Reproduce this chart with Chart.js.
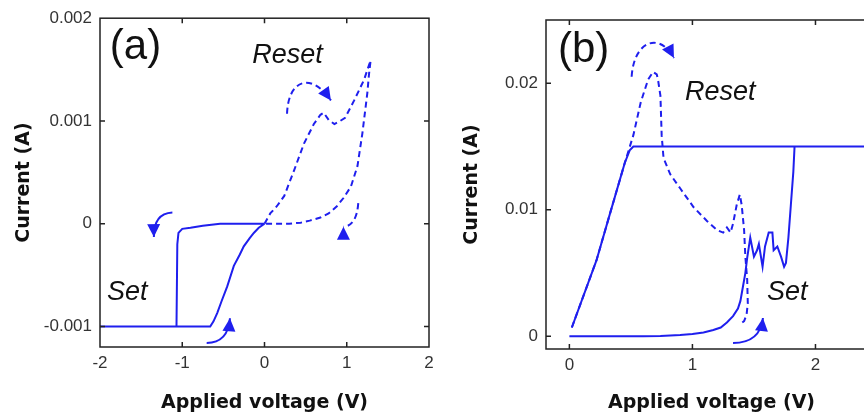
<!DOCTYPE html>
<html>
<head>
<meta charset="utf-8">
<script src="https://cdn.jsdelivr.net/npm/chart.js@4/dist/chart.umd.min.js"></script>
<style>
    html, body { margin: 0; padding: 0; background: #fff; overflow: hidden; width: 864px; height: 414px; }
    .panel { position: absolute; top: 0; height: 414px; }
    #panel-a { left: 0; width: 440px; }
    #panel-b { left: 440px; width: 460px; }
</style>
</head>
<body>
<div class="panel" id="panel-a"><canvas id="chart-a" width="440" height="414"></canvas></div>
<div class="panel" id="panel-b"><canvas id="chart-b" width="460" height="414"></canvas></div>
<script>
// (a) bipolar switching: set on the negative side, reset on the positive side
const setVoltsA = [0, -0.3, -0.54, -0.75, -0.9, -1.0, -1.046, -1.06, -1.07, -1.5, -2, -1.5, -1.07, -0.8, -0.66, -0.62, -0.575, -0.52, -0.453, -0.373, -0.3, -0.252, -0.18, -0.13, -0.07, 0];
const setCurrentA = [0, 0, 0, -0.00002, -0.00004, -0.00005, -0.00009, -0.0002, -0.001, -0.001, -0.001, -0.001, -0.001, -0.001, -0.001, -0.00095, -0.00087, -0.00075, -0.00061, -0.00041, -0.0003, -0.00022, -0.00014, -0.00009, -0.00004, 0];
const resetVoltsA = [0, 0.07, 0.15, 0.24, 0.36, 0.48, 0.6, 0.68, 0.72, 0.78, 0.85, 0.92, 0.98, 1.09, 1.21, 1.29, 1.27, 1.25, 1.19, 1.13, 1.05, 0.96, 0.88, 0.78, 0.68, 0.55, 0.44, 0.3, 0.15, 0];
const resetCurrentA = [0, 0.0001, 0.00017, 0.00027, 0.00052, 0.00078, 0.00097, 0.00106, 0.00108, 0.00101, 0.00097, 0.001, 0.00103, 0.0012, 0.0014, 0.00159, 0.00145, 0.00127, 0.00088, 0.00056, 0.00036, 0.00025, 0.00017, 0.0001, 0.00006, 0.00003, 0.00001, 0, 0, 0];
const xTicksA = [-2, -1, 0, 1, 2];
const xTickLabelsA = ['-2', '-1', '0', '1', '2'];
const yTicksA = [-0.001, 0, 0.001, 0.002];
const yTickLabelsA = ['-0.001', '0', '0.001', '0.002'];

// (b) unipolar switching
const setVoltsB = [0, 0.3, 0.6, 0.74, 0.9, 1.0, 1.09, 1.17, 1.23, 1.28, 1.33, 1.37, 1.39, 1.41, 1.43, 1.445, 1.47, 1.5, 1.525, 1.54, 1.57, 1.59, 1.62, 1.65, 1.66, 1.69, 1.72, 1.745, 1.76, 1.78, 1.8, 1.82, 1.83, 2.2, 2.5, 2.0, 1.0, 0.52, 0.49, 0.45, 0.33, 0.22, 0.02];
const setCurrentB = [0, 0, 0, 0.00003, 0.0001, 0.00018, 0.0003, 0.0005, 0.0007, 0.0011, 0.0016, 0.0022, 0.0028, 0.0039, 0.005, 0.0062, 0.0078, 0.0063, 0.0068, 0.0073, 0.0055, 0.0071, 0.0082, 0.0082, 0.0068, 0.0071, 0.0063, 0.0055, 0.0058, 0.0078, 0.0104, 0.013, 0.015, 0.015, 0.015, 0.015, 0.015, 0.015, 0.0147, 0.0137, 0.0097, 0.006, 0.0007];
const resetVoltsB = [0.02, 0.22, 0.33, 0.45, 0.52, 0.58, 0.64, 0.68, 0.71, 0.72, 0.74, 0.75, 0.765, 0.82, 0.9, 1.01, 1.12, 1.2, 1.25, 1.28, 1.31, 1.33, 1.36, 1.385, 1.4, 1.42, 1.43, 1.445, 1.45, 1.44, 1.42, 1.38];
const resetCurrentB = [0.0007, 0.006, 0.0097, 0.0137, 0.0159, 0.0185, 0.0203, 0.0209, 0.0207, 0.0203, 0.019, 0.0159, 0.0141, 0.0128, 0.0117, 0.0102, 0.0091, 0.0084, 0.0082, 0.0086, 0.0082, 0.0089, 0.0104, 0.0112, 0.0104, 0.0084, 0.0063, 0.0045, 0.0026, 0.0017, 0.0012, 0.0009];
const xTicksB = [0, 1, 2];
const xTickLabelsB = ['0', '1', '2'];
const yTicksB = [0, 0.01, 0.02];
const yTickLabelsB = ['0', '0.01', '0.02'];

const ink = '#1f1fee';
const axisInk = '#222';
const tickFont = { family: "'Liberation Sans', Arial, sans-serif", size: 17 };
const titleFont = { family: "'DejaVu Sans', Verdana, sans-serif", size: 19, weight: 'bold' };

// text notes and sweep arrows, anchored in data units
const notesA = [
    { text: '(a)', at: [-1.88, 0.0016], font: "42px 'Liberation Sans', Arial" },
    { text: 'Reset', at: [-0.15, 0.00156], font: "italic 27px 'Liberation Sans', Arial" },
    { text: 'Set', at: [-1.915, -0.000744], font: "italic 27px 'Liberation Sans', Arial" },
];
const arrowsA = [
    { pts: [[-1.12, 0.00011], [-1.35, 0.0001], [-1.345, -0.00013]] },
    { pts: [[-0.703, -0.00116], [-0.444, -0.00116], [-0.42, -0.00092]] },
    { pts: [[0.274, 0.00107], [0.286, 0.00139], [0.553, 0.00149], [0.808, 0.0012]], dashed: true },
    { pts: [[1.14, 0.0002], [1.12, -0.00002], [0.96, -0.00003]], dashed: true, headAngle: -Math.PI / 2 },
];
const notesB = [
    { text: '(b)', at: [-0.093, 0.02168], font: "42px 'Liberation Sans', Arial" },
    { text: 'Reset', at: [0.94, 0.01868], font: "italic 27px 'Liberation Sans', Arial" },
    { text: 'Set', at: [1.606, 0.00287], font: "italic 27px 'Liberation Sans', Arial" },
];
const arrowsB = [
    { pts: [[0.506, 0.02052], [0.525, 0.02342], [0.736, 0.02405], [0.85, 0.022]], dashed: true },
    { pts: [[1.33, -0.000525], [1.55, -0.000525], [1.573, 0.00145]] },
];

function toPoints(xs, ys) {
    return xs.map((x, i) => ({ x, y: ys[i] }));
}

function drawArrow(ctx, x, y, arrow) {
    const p = arrow.pts.map(([v, c]) => ({ x: x.getPixelForValue(v), y: y.getPixelForValue(c) }));
    ctx.setLineDash(arrow.dashed ? [6, 4] : []);
    ctx.beginPath();
    ctx.moveTo(p[0].x, p[0].y);
    if (p.length === 4) ctx.bezierCurveTo(p[1].x, p[1].y, p[2].x, p[2].y, p[3].x, p[3].y);
    else ctx.quadraticCurveTo(p[1].x, p[1].y, p[2].x, p[2].y);
    ctx.stroke();
    ctx.setLineDash([]);
    const tip = p[p.length - 1];
    const prev = p[p.length - 2];
    const ang = arrow.headAngle ?? Math.atan2(tip.y - prev.y, tip.x - prev.x);
    ctx.save();
    ctx.translate(tip.x, tip.y);
    ctx.rotate(ang);
    ctx.beginPath();
    ctx.moveTo(0, 0);
    ctx.lineTo(-13, -6.5);
    ctx.lineTo(-13, 6.5);
    ctx.closePath();
    ctx.fill();
    ctx.restore();
}

const framePlugin = {
    id: 'frame',
    afterDatasetsDraw(chart, args, opts) {
        const { ctx, chartArea: a, scales: { x, y } } = chart;
        ctx.save();
        ctx.strokeStyle = axisInk;
        ctx.lineWidth = 1.5;
        ctx.strokeRect(a.left, a.top, a.right - a.left, a.bottom - a.top);
        ctx.beginPath();
        x.ticks.forEach((t) => {
            const px = x.getPixelForValue(t.value);
            if (px <= a.left + 1 || px >= a.right - 1) return;
            ctx.moveTo(px, a.bottom);
            ctx.lineTo(px, a.bottom - 5);
            ctx.moveTo(px, a.top);
            ctx.lineTo(px, a.top + 5);
        });
        y.ticks.forEach((t) => {
            const py = y.getPixelForValue(t.value);
            if (py <= a.top + 1 || py >= a.bottom - 1) return;
            ctx.moveTo(a.left, py);
            ctx.lineTo(a.left + 5, py);
            ctx.moveTo(a.right, py);
            ctx.lineTo(a.right - 5, py);
        });
        ctx.stroke();

        ctx.fillStyle = '#111';
        ctx.textAlign = 'left';
        ctx.textBaseline = 'alphabetic';
        (opts.notes || []).forEach((n) => {
            ctx.font = n.font;
            ctx.fillText(n.text, x.getPixelForValue(n.at[0]), y.getPixelForValue(n.at[1]));
        });

        ctx.strokeStyle = ink;
        ctx.fillStyle = ink;
        ctx.lineWidth = 2;
        (opts.arrows || []).forEach((ar) => drawArrow(ctx, x, y, ar));
        ctx.restore();
    },
};

function buildPanel(canvas, cfg) {
    return new Chart(canvas, {
        type: 'scatter',
        data: {
            datasets: [
                {
                    data: toPoints(cfg.setV, cfg.setI),
                    showLine: true,
                    borderColor: ink,
                    borderWidth: 2,
                    pointRadius: 0,
                    tension: 0,
                },
                {
                    data: toPoints(cfg.resetV, cfg.resetI),
                    showLine: true,
                    borderColor: ink,
                    borderWidth: 2,
                    borderDash: [6, 4],
                    pointRadius: 0,
                    tension: 0,
                },
            ],
        },
        options: {
            responsive: false,
            animation: false,
            layout: { padding: cfg.padding },
            plugins: {
                legend: { display: false },
                tooltip: { enabled: false },
                frame: { notes: cfg.notes, arrows: cfg.arrows },
            },
            scales: {
                x: {
                    type: 'linear',
                    min: cfg.xRange[0],
                    max: cfg.xRange[1],
                    afterBuildTicks: (s) => { s.ticks = cfg.xTicks.map((value) => ({ value })); },
                    afterFit: (s) => { s.height = cfg.xAxisHeight; },
                    grid: { display: false, drawTicks: false },
                    border: { display: false },
                    ticks: {
                        font: tickFont,
                        color: '#333',
                        padding: 6,
                        maxRotation: 0,
                        autoSkip: false,
                        callback: (v) => cfg.xLabels[cfg.xTicks.indexOf(v)] ?? '',
                    },
                    title: {
                        display: true,
                        text: 'Applied voltage (V)',
                        font: titleFont,
                        color: '#111',
                        padding: { top: 0, bottom: 0 },
                    },
                },
                y: {
                    type: 'linear',
                    min: cfg.yRange[0],
                    max: cfg.yRange[1],
                    afterBuildTicks: (s) => { s.ticks = cfg.yTicks.map((value) => ({ value })); },
                    afterFit: (s) => { s.width = cfg.yAxisWidth; },
                    grid: { display: false, drawTicks: false },
                    border: { display: false },
                    ticks: {
                        font: tickFont,
                        color: '#333',
                        padding: 8,
                        autoSkip: false,
                        callback: (v) => cfg.yLabels[cfg.yTicks.indexOf(v)] ?? '',
                    },
                    title: {
                        display: true,
                        text: 'Current (A)',
                        font: titleFont,
                        color: '#111',
                        padding: { top: cfg.yTitleGap, bottom: 0 },
                    },
                },
            },
        },
        plugins: [framePlugin],
    });
}

buildPanel(document.getElementById('chart-a'), {
    setV: setVoltsA, setI: setCurrentA, resetV: resetVoltsA, resetI: resetCurrentA,
    xTicks: xTicksA, xLabels: xTickLabelsA, yTicks: yTicksA, yLabels: yTickLabelsA,
    xRange: [-2, 2], yRange: [-0.0012, 0.002],
    padding: { left: 0, right: 11, top: 17, bottom: 0 },
    xAxisHeight: 67, yAxisWidth: 100, yTitleGap: 13,
    notes: notesA, arrows: arrowsA,
});

buildPanel(document.getElementById('chart-b'), {
    setV: setVoltsB, setI: setCurrentB, resetV: resetVoltsB, resetI: resetCurrentB,
    xTicks: xTicksB, xLabels: xTickLabelsB, yTicks: yTicksB, yLabels: yTickLabelsB,
    xRange: [-0.19, 2.5], yRange: [-0.001, 0.025],
    padding: { left: 0, right: 23, top: 20, bottom: 0 },
    xAxisHeight: 65, yAxisWidth: 106, yTitleGap: 21,
    notes: notesB, arrows: arrowsB,
});
</script>
</body>
</html>
